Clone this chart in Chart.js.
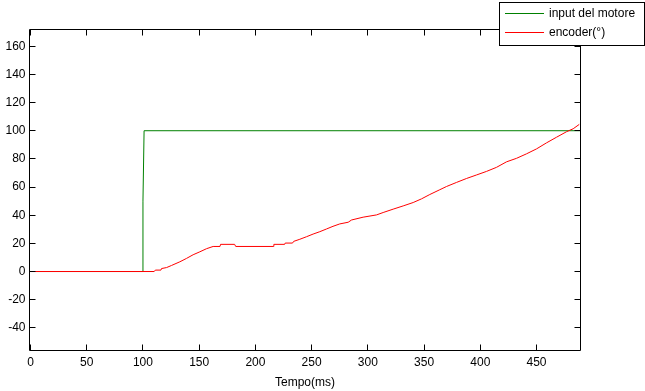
<!DOCTYPE html>
<html>
<head>
<meta charset="utf-8">
<script src="https://cdn.jsdelivr.net/npm/chart.js@4/dist/chart.umd.min.js"></script>
<style>
  html, body { margin: 0; padding: 0; background: #ffffff; }
  canvas { display: block; }
</style>
</head>
<body>
<canvas id="c" width="645" height="391"></canvas>
<script>
// ---- data ----
const inputTime = [0, 100, 100, 101, 489];
const inputValue = [0, 0, 50, 100, 100];

const encoderTime = [0, 110, 111, 116, 116.5, 121, 125.4, 132.8, 138.7, 144.6, 150.6, 156.5, 162.4, 168.5, 169, 181.5, 182.5, 215.8, 216.4, 226, 226.5, 233, 234, 239.5, 245.4, 251.3, 257.3, 263.2, 269, 275, 282.5, 285.5, 295.8, 307.7, 313.6, 322.5, 331.4, 340.3, 347.7, 355.1, 364, 370, 378.9, 387.8, 396.7, 405.5, 414.4, 423.3, 432.2, 441.1, 450, 458.9, 467.8, 476.7, 482.6, 488];
const encoderValue = [0, 0, 1, 1, 2.1, 2.8, 4.3, 6.9, 9.3, 11.9, 14, 16.2, 17.8, 17.8, 19.3, 19.3, 17.8, 17.8, 19.3, 19.3, 20.2, 20.2, 21.4, 22.9, 24.7, 26.6, 28.3, 30.2, 32.1, 33.8, 35, 36.6, 38.6, 40.2, 41.9, 44.3, 46.6, 49, 51.6, 54.7, 58.1, 60.4, 63.3, 66.1, 68.6, 71.1, 74, 77.9, 80.4, 83.6, 87.1, 91.4, 95.4, 99.3, 101.4, 104.5];

const xTicks = [0, 50, 100, 150, 200, 250, 300, 350, 400, 450];
const yTicks = [-40, -20, 0, 20, 40, 60, 80, 100, 120, 140, 160];
const seriesLabels = ['input del motore', 'encoder(°)'];
const xTitle = 'Tempo(ms)';

const FONT = '"Liberation Sans", Arial, sans-serif';
const GREEN = '#008000';
const RED = '#ff0000';

const toXY = (xs, ys) => xs.map((x, i) => ({ x: x, y: ys[i] }));

// box + inward ticks, and the boxed legend
const boxPlugin = {
  id: 'box',
  afterDraw(chart) {
    const ctx = chart.ctx;
    const a = chart.chartArea;
    const xs = chart.scales.x, ys = chart.scales.y;
    const L = 6;
    ctx.save();
    ctx.strokeStyle = '#000';
    ctx.lineWidth = 1;
    ctx.beginPath();
    ctx.rect(a.left, a.top, a.right - a.left, a.bottom - a.top);
    ctx.stroke();
    ctx.beginPath();
    xTicks.forEach(v => {
      const p = Math.round(xs.getPixelForValue(v) - 0.5) + 0.5;
      ctx.moveTo(p, a.bottom); ctx.lineTo(p, a.bottom - L);
      ctx.moveTo(p, a.top); ctx.lineTo(p, a.top + L);
    });
    yTicks.forEach(v => {
      const p = Math.round(ys.getPixelForValue(v) - 0.5) + 0.5;
      ctx.moveTo(a.left, p); ctx.lineTo(a.left + L, p);
      ctx.moveTo(a.right, p); ctx.lineTo(a.right - L, p);
    });
    ctx.stroke();

    // legend
    const bx = 499.5, by = 2.5, bw = 145, bh = 43;
    ctx.fillStyle = '#fff';
    ctx.fillRect(bx, by, bw, bh);
    ctx.strokeRect(bx, by, bw, bh);
    const rows = [
      { y: 13.5, color: GREEN, text: chart.data.datasets[0].label },
      { y: 32.5, color: RED, text: chart.data.datasets[1].label }
    ];
    ctx.font = '12px ' + FONT;
    ctx.textBaseline = 'middle';
    ctx.textAlign = 'left';
    rows.forEach(r => {
      ctx.strokeStyle = r.color;
      ctx.beginPath();
      ctx.moveTo(505, r.y); ctx.lineTo(544, r.y);
      ctx.stroke();
      ctx.fillStyle = '#000';
      ctx.fillText(r.text, 549, r.y + 0.5);
    });
    ctx.restore();
  }
};

new Chart(document.getElementById('c'), {
  type: 'line',
  data: {
    datasets: [
      { label: seriesLabels[0], data: toXY(inputTime, inputValue), borderColor: GREEN, borderWidth: 1, pointRadius: 0, tension: 0, order: 1 },
      { label: seriesLabels[1], data: toXY(encoderTime, encoderValue), borderColor: RED, borderWidth: 1, pointRadius: 0, tension: 0, order: 0 }
    ]
  },
  options: {
    responsive: false,
    animation: false,
    devicePixelRatio: 1,
    layout: { padding: { left: 0, top: 29.5, right: 64.5, bottom: 0 } },
    plugins: { legend: { display: false }, tooltip: { enabled: false } },
    scales: {
      x: {
        type: 'linear',
        min: -0.9, max: 489.1,
        grid: { display: false, drawTicks: false },
        border: { display: false },
        afterBuildTicks: s => { s.ticks = xTicks.map(v => ({ value: v })); },
        afterFit: s => { s.height = 40.5; },
        ticks: { color: '#000', font: { family: FONT, size: 12 }, padding: 5, maxRotation: 0, autoSkip: false },
        title: { display: true, text: xTitle, color: '#000', font: { family: FONT, size: 12 }, padding: { top: 0, bottom: 1 } }
      },
      y: {
        type: 'linear',
        min: -56.1, max: 171.9,
        grid: { display: false, drawTicks: false },
        border: { display: false },
        afterBuildTicks: s => { s.ticks = yTicks.map(v => ({ value: v })); },
        afterFit: s => { s.width = 29.5; },
        ticks: { color: '#000', font: { family: FONT, size: 12 }, padding: 4, autoSkip: false }
      }
    }
  },
  plugins: [boxPlugin]
});
</script>
</body>
</html>
